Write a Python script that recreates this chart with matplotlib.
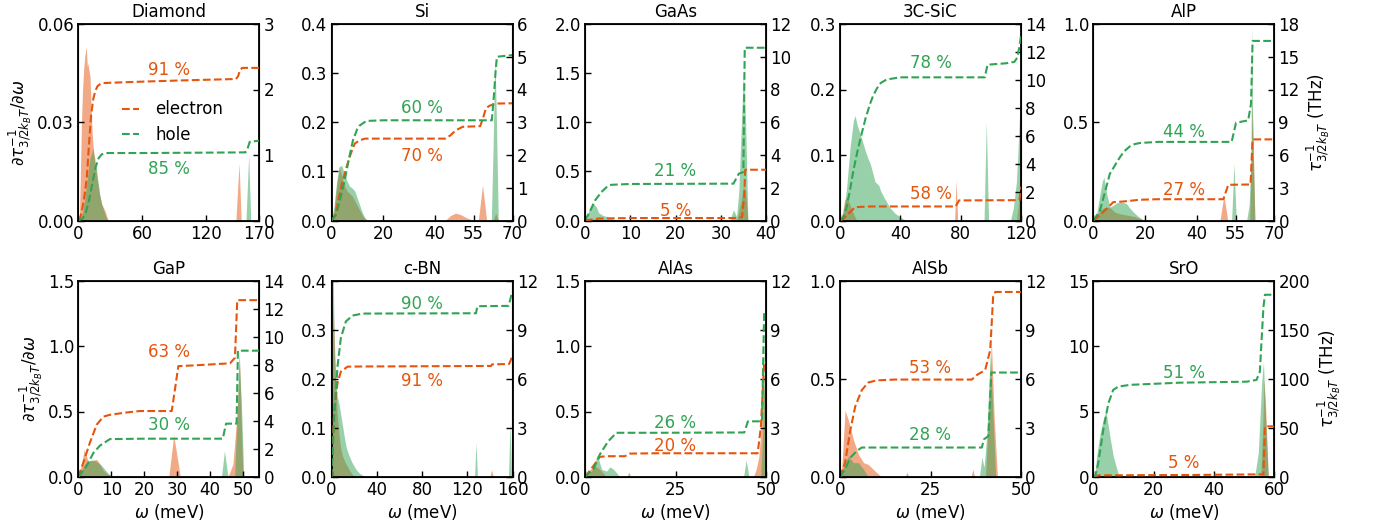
import matplotlib
matplotlib.use("Agg")
import matplotlib.pyplot as plt
from matplotlib.lines import Line2D

# ---------------- data ----------------
materials = ["Diamond", "Si", "GaAs", "3C-SiC", "AlP", "GaP", "c-BN", "AlAs", "AlSb", "SrO"]
pct_e = ["91 %", "70 %", "5 %", "58 %", "27 %", "63 %", "91 %", "20 %", "53 %", "5 %"]
pct_h = ["85 %", "60 %", "21 %", "78 %", "44 %", "30 %", "90 %", "26 %", "28 %", "51 %"]

xlims = [170, 70, 40, 120, 70, 55, 160, 50, 50, 60]
xticks = [[0, 60, 120, 170], [0, 20, 40, 55, 70], [0, 10, 20, 30, 40], [0, 40, 80, 120],
          [0, 20, 40, 55, 70], [0, 10, 20, 30, 40, 50], [0, 40, 80, 120, 160],
          [0, 25, 50], [0, 25, 50], [0, 20, 40, 60]]
left_ticks = [[0, 0.03, 0.06], [0, 0.1, 0.2, 0.3, 0.4], [0, 0.5, 1.0, 1.5, 2.0], [0, 0.1, 0.2, 0.3],
              [0, 0.5, 1.0], [0, 0.5, 1.0, 1.5], [0, 0.1, 0.2, 0.3, 0.4], [0, 0.5, 1.0, 1.5],
              [0, 0.5, 1.0], [0, 5, 10, 15]]
left_fmt = ["{:.2f}", "{:.1f}", "{:.1f}", "{:.1f}", "{:.1f}", "{:.1f}", "{:.1f}", "{:.1f}", "{:.1f}", "{:.0f}"]
right_ticks = [[0, 1, 2, 3], [0, 1, 2, 3, 4, 5, 6], [0, 2, 4, 6, 8, 10, 12], [0, 2, 4, 6, 8, 10, 12, 14],
               [0, 3, 6, 9, 12, 15, 18], [0, 2, 4, 6, 8, 10, 12, 14], [0, 3, 6, 9, 12],
               [0, 3, 6, 9, 12], [0, 3, 6, 9, 12], [0, 50, 100, 150, 200]]

# Diamond
diamond_e_w = [0, 1, 2, 3, 4, 5, 6, 7.5, 8.5, 9, 10, 11, 12, 13, 14, 15, 16, 18, 20, 22, 25, 28, 148, 151, 153, 170]
diamond_e_r = [0, 0, 0.015, 0.03, 0.04, 0.046, 0.05, 0.053, 0.047, 0.048, 0.046, 0.044, 0.035, 0.027, 0.022, 0.02, 0.017, 0.012, 0.008, 0.005, 0.003, 0, 0, 0.0175, 0, 0]
diamond_h_w = [0, 3, 5, 7, 9, 10, 11, 12, 13, 13.8, 14.5, 15, 16, 17, 18, 19, 20, 22, 24, 26, 28, 157.5, 160, 162, 170]
diamond_h_r = [0, 0.001, 0.004, 0.009, 0.014, 0.017, 0.019, 0.02, 0.021, 0.0225, 0.019, 0.02, 0.017, 0.016, 0.013, 0.011, 0.008, 0.005, 0.003, 0.001, 0, 0, 0.02, 0, 0]
diamond_e_cw = [0, 2, 4, 6, 8, 10, 12, 14, 16, 18, 21, 25, 60, 100, 148, 150, 152, 154, 170]
diamond_e_c = [0, 0.05, 0.2, 0.4, 0.65, 1.15, 1.6, 1.85, 1.98, 2.05, 2.09, 2.1, 2.12, 2.14, 2.16, 2.2, 2.3, 2.33, 2.33]
diamond_h_cw = [0, 4, 7, 10, 13, 16, 19, 22, 26, 60, 157, 159, 161, 170]
diamond_h_c = [0, 0.03, 0.12, 0.3, 0.55, 0.8, 0.95, 1.01, 1.03, 1.03, 1.04, 1.1, 1.2, 1.22]

# Si
si_e_w = [0, 1, 2, 3, 4, 5, 6, 7, 8, 9, 10, 11, 12, 13, 14, 44, 46, 48, 50, 52, 55, 56.8, 58.4, 60, 62.5, 63.5, 64.5, 70]
si_e_r = [0, 0.02, 0.07, 0.11, 0.09, 0.07, 0.06, 0.055, 0.05, 0.04, 0.03, 0.02, 0.01, 0.003, 0, 0, 0.01, 0.015, 0.012, 0.006, 0, 0, 0.072, 0, 0, 0.015, 0, 0]
si_h_w = [0, 1, 2, 3, 4, 5, 6, 7, 8, 9, 10, 11, 12, 13, 14, 61.8, 62.5, 63.2, 63.8, 64.5, 70]
si_h_r = [0, 0.03, 0.08, 0.11, 0.112, 0.095, 0.08, 0.07, 0.066, 0.06, 0.045, 0.03, 0.015, 0.005, 0, 0, 0.15, 0.335, 0.2, 0, 0]
si_e_cw = [0, 1.5, 2.6, 4, 5.8, 7.5, 9, 10.9, 13, 20, 44, 46, 48, 50.7, 57.5, 58.5, 59.7, 61, 63.5, 70]
si_e_c = [0, 0.15, 0.6, 1.1, 1.63, 2.05, 2.35, 2.45, 2.5, 2.5, 2.5, 2.6, 2.75, 2.86, 2.88, 3.1, 3.42, 3.5, 3.57, 3.58]
si_h_cw = [0, 1.9, 3.5, 5.1, 6.5, 8.3, 10, 10.9, 13.5, 20, 62, 62.8, 63.5, 64, 70]
si_h_c = [0, 0.2, 0.7, 1.22, 1.8, 2.45, 2.8, 2.9, 3.04, 3.06, 3.06, 3.8, 4.6, 5.0, 5.05]

# GaAs
gaas_e_w = [0, 1, 2, 4, 6, 8, 33.5, 34.5, 35, 35.5, 36, 40]
gaas_e_r = [0, 0.01, 0.015, 0.01, 0.005, 0, 0, 0.2, 0.35, 0.3, 0, 0]
gaas_h_w = [0, 0.3, 1, 1.7, 2.5, 3, 4, 5, 6, 7, 32, 32.8, 33.5, 34, 34.5, 35, 35.5, 36, 40]
gaas_h_r = [0, 0.02, 0.12, 0.177, 0.14, 0.08, 0.05, 0.04, 0.02, 0, 0, 0.11, 0.04, 0.3, 0.9, 1.5, 1.0, 0, 0]
gaas_e_cw = [0, 3, 10, 33, 34.7, 35.2, 35.4, 40]
gaas_e_c = [0, 0.12, 0.15, 0.15, 0.2, 1.5, 3.1, 3.1]
gaas_h_cw = [0, 1, 2.2, 3.6, 5, 5.8, 10, 32.8, 34, 35, 35.3, 40]
gaas_h_c = [0, 0.5, 1.22, 1.73, 2.1, 2.18, 2.23, 2.25, 2.86, 2.96, 10.55, 10.55]

# 3C-SiC
sic_e_w = [0, 1.5, 3, 4.4, 6, 8, 10, 11, 76, 77, 78, 117, 118.5, 120]
sic_e_r = [0, 0.01, 0.03, 0.036, 0.028, 0.015, 0.005, 0, 0, 0.062, 0, 0, 0.03, 0.06]
sic_h_w = [0, 2.2, 4.4, 6.7, 8.9, 10, 11.5, 13.3, 15, 16.7, 18.5, 20, 22, 23.3, 25.6, 27, 29, 33, 36, 40, 44, 95.5, 97, 98.5, 113, 115, 117, 118.5, 120]
sic_h_r = [0, 0.01, 0.05, 0.112, 0.153, 0.16, 0.145, 0.133, 0.12, 0.107, 0.095, 0.087, 0.07, 0.059, 0.054, 0.045, 0.036, 0.02, 0.012, 0.005, 0, 0, 0.15, 0, 0, 0.02, 0.06, 0.13, 0.22]
sic_e_cw = [0, 2, 4.4, 6.7, 10, 20, 76.7, 78.9, 119, 120]
sic_e_c = [0, 0.1, 0.36, 0.6, 0.95, 1.0, 1.0, 1.43, 1.45, 2.4]
sic_h_cw = [0, 2, 4.4, 6.7, 8.9, 11.5, 14.4, 17, 20, 22, 24.4, 27, 31, 40, 96, 97.8, 110, 115.6, 117.5, 119, 120]
sic_h_c = [0, 0.2, 0.95, 2.2, 3.57, 4.9, 6.2, 7.3, 8.33, 8.9, 9.4, 9.8, 10.05, 10.2, 10.2, 11.1, 11.2, 11.3, 11.6, 12.4, 13.2]

# AlP
alp_e_w = [0, 1, 2.5, 4, 5, 6, 7, 8, 10, 12, 14, 16, 18, 19.5, 49, 50.5, 52, 60.5, 61.5, 62.5, 70]
alp_e_r = [0, 0.02, 0.05, 0.065, 0.068, 0.068, 0.06, 0.045, 0.035, 0.03, 0.025, 0.02, 0.01, 0, 0, 0.128, 0, 0, 0.6, 0, 0]
alp_h_w = [0, 1.3, 2.6, 3.5, 4.1, 5.2, 6.4, 7.7, 9, 10.3, 11.5, 12.9, 14, 15.5, 17, 18.7, 20, 53.5, 54.4, 55.3, 59.3, 60.3, 61, 61.2, 61.6, 62.5, 70]
alp_h_r = [0, 0.034, 0.136, 0.2, 0.22, 0.136, 0.068, 0.077, 0.09, 0.094, 0.092, 0.085, 0.065, 0.043, 0.025, 0.008, 0, 0, 0.29, 0, 0, 0.08, 0.35, 1.0, 0.5, 0, 0]
alp_e_cw = [0, 2.5, 5.2, 7.7, 11.6, 18, 25, 50.3, 52.2, 60.8, 61.6, 70]
alp_e_c = [0, 0.5, 1.07, 1.68, 1.74, 1.9, 1.95, 1.95, 3.27, 3.3, 7.43, 7.43]
alp_h_cw = [0, 2.6, 4.5, 6.4, 8.5, 10.3, 12, 14.2, 16, 18, 25, 53.5, 55.2, 59.9, 61, 61.6, 70]
alp_h_c = [0, 0.92, 2.6, 4.28, 5.1, 5.8, 6.35, 6.8, 7.0, 7.1, 7.2, 7.2, 8.96, 9.17, 10.7, 16.45, 16.45]

# GaP
gap_e_w = [0, 1, 1.8, 3, 4, 5.6, 6.5, 7.6, 9, 10, 12, 14, 16, 17, 27.5, 29, 31, 45.5, 47, 48.3, 49, 50, 55]
gap_e_r = [0, 0.1, 0.21, 0.12, 0.125, 0.134, 0.1, 0.05, 0.02, 0.01, 0.013, 0.008, 0.012, 0, 0, 0.32, 0, 0, 0.1, 0.5, 0.9, 0, 0]
gap_h_w = [0, 1, 2, 3, 4, 5, 6, 7, 8, 9, 10, 11, 43.5, 44.4, 45.5, 47.5, 48.3, 48.8, 49.5, 50.3, 55]
gap_h_r = [0, 0.05, 0.1, 0.12, 0.13, 0.125, 0.11, 0.09, 0.06, 0.03, 0.01, 0, 0, 0.2, 0, 0, 0.5, 0.96, 0.6, 0, 0]
gap_e_cw = [0, 1.5, 3.5, 5.6, 7.6, 9.6, 14.7, 18.7, 28.4, 30.4, 35, 46.1, 47.6, 48.3, 55]
gap_e_c = [0, 1.0, 2.43, 3.73, 4.3, 4.43, 4.6, 4.7, 4.7, 7.9, 7.95, 8.1, 8.5, 12.6, 12.6]
gap_h_cw = [0, 2.5, 4.6, 6.6, 9.6, 20, 43.9, 44.9, 48.1, 48.5, 55]
gap_h_c = [0, 0.78, 1.72, 2.24, 2.7, 2.73, 2.73, 3.8, 3.8, 9.0, 9.0]

# c-BN
cbn_e_w = [0, 0.8, 1.5, 2.5, 3.8, 5, 6.8, 8, 9.7, 12, 15.6, 20, 140, 141.6, 143, 160]
cbn_e_r = [0, 0.2, 0.35, 0.28, 0.2, 0.13, 0.083, 0.06, 0.043, 0.03, 0.015, 0, 0, 0.015, 0, 0]
cbn_h_w = [0, 0.5, 0.9, 1.5, 2.5, 3.8, 5, 6.8, 9, 11.2, 13, 15.6, 18, 21.5, 25, 30, 126.5, 127.7, 129, 156.5, 157.8, 159, 160]
cbn_h_r = [0, 0.3, 0.42, 0.42, 0.25, 0.19, 0.165, 0.147, 0.115, 0.083, 0.06, 0.043, 0.03, 0.016, 0.007, 0, 0, 0.07, 0, 0, 0.113, 0, 0]
cbn_e_cw = [0, 0.9, 2.4, 5.3, 8.3, 14.2, 30, 141, 142, 157, 160]
cbn_e_c = [0, 1.68, 4.1, 5.73, 6.44, 6.74, 6.75, 6.78, 6.88, 6.9, 7.39]
cbn_h_cw = [0, 1, 2.4, 5.3, 8.3, 12.7, 18.6, 27.4, 127.7, 129, 156.6, 159.3, 160]
cbn_h_c = [0, 1.5, 3.7, 6.74, 8.5, 9.5, 9.86, 9.98, 10.0, 10.43, 10.45, 11.2, 11.3]

# AlAs
alas_e_w = [0, 1.4, 2.75, 4.1, 5, 6, 11.5, 12.1, 12.7, 46.5, 47.2, 48, 48.6, 49.3, 49.8, 50]
alas_e_r = [0, 0.058, 0.084, 0.058, 0.03, 0, 0, 0.038, 0, 0, 0.05, 0.15, 0.35, 0.77, 0.5, 0.4]
alas_h_w = [0, 1.2, 2.3, 3.4, 4.6, 6, 6.9, 7.8, 8.7, 9.6, 43.8, 44.5, 45.3, 48.5, 49.2, 49.7, 50]
alas_h_r = [0, 0.02, 0.07, 0.167, 0.058, 0.045, 0.078, 0.06, 0.033, 0, 0, 0.13, 0, 0, 0.4, 1.3, 0.9]
alas_e_cw = [0, 2.3, 4.1, 6, 11, 12.4, 20, 47.7, 48.6, 49.5, 50]
alas_e_c = [0, 0.67, 1.23, 1.27, 1.27, 1.43, 1.45, 1.45, 3.1, 7.0, 7.0]
alas_h_cw = [0, 2.3, 4.1, 6.4, 8.7, 20, 44, 45, 48.9, 49.5, 50]
alas_h_c = [0, 0.46, 1.38, 2.18, 2.7, 2.7, 2.72, 3.4, 3.4, 10.1, 10.1]

# AlSb
alsb_e_w = [0, 0.5, 1.4, 2.3, 3.7, 5.1, 6.5, 7.8, 9.7, 11, 12, 18, 18.5, 19, 36.2, 36.7, 37.2, 40.2, 41, 41.8, 42.6, 43.5, 50]
alsb_e_r = [0, 0.05, 0.34, 0.29, 0.19, 0.115, 0.073, 0.064, 0.03, 0.008, 0, 0, 0.025, 0, 0, 0.039, 0, 0, 0.3, 0.7, 0.3, 0, 0]
alsb_h_w = [0, 0.9, 2.3, 3.7, 5.1, 6.5, 7.8, 38.5, 39.2, 39.8, 40.5, 41.5, 42.3, 43, 50]
alsb_h_r = [0, 0.047, 0.106, 0.073, 0.073, 0.039, 0, 0, 0.1, 0.05, 0.2, 0.63, 0.3, 0, 0]
alsb_e_cw = [0, 1.4, 2.8, 4.2, 6, 7.8, 10.1, 15, 36.4, 37.8, 40.1, 41.5, 42.3, 42.9, 50]
alsb_e_c = [0, 0.87, 2.8, 4.3, 5.3, 5.77, 5.9, 5.95, 5.95, 6.23, 6.53, 7.75, 11.0, 11.3, 11.3]
alsb_h_cw = [0, 1.4, 2.8, 4.6, 6, 15, 39.2, 39.7, 41, 41.8, 50]
alsb_h_c = [0, 0.47, 1.17, 1.58, 1.8, 1.8, 1.8, 2.29, 2.5, 6.38, 6.38]

# SrO
sro_e_w = [0, 55.5, 56.2, 56.6, 57.2, 58, 60]
sro_e_r = [0, 0, 4, 7.5, 5, 0, 0]
sro_h_w = [0, 0.5, 1.1, 2.2, 3.3, 4.2, 5.5, 6.6, 8.3, 9, 53, 53.6, 54.7, 55.8, 56.4, 57, 58, 60]
sro_h_r = [0, 0, 1.6, 3.24, 4.4, 5.0, 3.1, 1.6, 0.2, 0, 0, 0.2, 1.85, 7.2, 8.8, 5, 0, 0]
sro_e_cw = [0, 1.7, 30, 56.4, 56.9, 60]
sro_e_c = [0, 1.7, 2, 2.7, 51.6, 51.6]
sro_h_cw = [0, 0.55, 1.66, 3.3, 5, 6.6, 8.3, 12.2, 28.7, 50.8, 54.1, 55.2, 56.4, 56.9, 60]
sro_h_c = [0, 0, 14.5, 48, 75, 88.7, 92, 93.8, 96, 97, 98.8, 107, 173, 185.5, 185.5]

panels = [
    (diamond_e_w, diamond_e_r, diamond_h_w, diamond_h_r, diamond_e_cw, diamond_e_c, diamond_h_cw, diamond_h_c),
    (si_e_w, si_e_r, si_h_w, si_h_r, si_e_cw, si_e_c, si_h_cw, si_h_c),
    (gaas_e_w, gaas_e_r, gaas_h_w, gaas_h_r, gaas_e_cw, gaas_e_c, gaas_h_cw, gaas_h_c),
    (sic_e_w, sic_e_r, sic_h_w, sic_h_r, sic_e_cw, sic_e_c, sic_h_cw, sic_h_c),
    (alp_e_w, alp_e_r, alp_h_w, alp_h_r, alp_e_cw, alp_e_c, alp_h_cw, alp_h_c),
    (gap_e_w, gap_e_r, gap_h_w, gap_h_r, gap_e_cw, gap_e_c, gap_h_cw, gap_h_c),
    (cbn_e_w, cbn_e_r, cbn_h_w, cbn_h_r, cbn_e_cw, cbn_e_c, cbn_h_cw, cbn_h_c),
    (alas_e_w, alas_e_r, alas_h_w, alas_h_r, alas_e_cw, alas_e_c, alas_h_cw, alas_h_c),
    (alsb_e_w, alsb_e_r, alsb_h_w, alsb_h_r, alsb_e_cw, alsb_e_c, alsb_h_cw, alsb_h_c),
    (sro_e_w, sro_e_r, sro_h_w, sro_h_r, sro_e_cw, sro_e_c, sro_h_cw, sro_h_c),
]

# ---------------- style / layout ----------------
C_E = "#e6550d"
C_H = "#31a354"
FS = 12
# label positions (axes fraction) for the percentage annotations: (e_y, h_y)
lab_pos = [(0.765, 0.264), (0.327, 0.575), (0.048, 0.25), (0.133, 0.80), (0.156, 0.45),
           (0.637, 0.266), (0.49, 0.882), (0.157, 0.275), (0.553, 0.216), (0.073, 0.528)]

W, H = 1388, 529
fig = plt.figure(figsize=(W / 100, H / 100), dpi=100)
col_left = [78.3, 331.5, 585.0, 840.0, 1093.3]
ax_w = 181.0
row_top = [24.0, 280.5]
ax_h = 196.5

for i, name in enumerate(materials):
    r, c = divmod(i, 5)
    l = col_left[c] / W
    b = 1 - (row_top[r] + ax_h) / H
    ax = fig.add_axes([l, b, ax_w / W, ax_h / H])
    ew, er, hw, hr, ecw, ec, hcw, hc = panels[i]
    ax.fill_between(ew, er, 0, color=C_E, alpha=0.5, lw=0)
    ax.fill_between(hw, hr, 0, color=C_H, alpha=0.5, lw=0)
    ax.set_xlim(0, xlims[i])
    ax.set_xticks(xticks[i])
    lt = left_ticks[i]
    ax.set_ylim(lt[0], lt[-1])
    ax.set_yticks(lt)
    ax.set_yticklabels([left_fmt[i].format(v) for v in lt])
    ax.tick_params(direction="in", length=4, width=1, labelsize=FS, pad=3)
    ax.set_title(name, fontsize=FS, pad=5)
    for s in ax.spines.values():
        s.set_linewidth(1.3)

    ax2 = ax.twinx()
    ax2.plot(ecw, ec, "--", color=C_E, lw=1.5)
    ax2.plot(hcw, hc, "--", color=C_H, lw=1.5)
    rt = right_ticks[i]
    ax2.set_ylim(rt[0], rt[-1])
    ax2.set_yticks(rt)
    ax2.tick_params(direction="in", length=4, width=1, labelsize=FS, pad=3)
    ax2.set_xlim(0, xlims[i])

    ye, yh = lab_pos[i]
    ax2.text(0.5, ye, pct_e[i], color=C_E, fontsize=FS, ha="center", va="center", transform=ax2.transAxes)
    ax2.text(0.5, yh, pct_h[i], color=C_H, fontsize=FS, ha="center", va="center", transform=ax2.transAxes)

    if c == 0:
        ax.set_ylabel(r"$\partial\tau^{-1}_{3/2k_BT}/\partial\omega$", fontsize=FS, labelpad=2)
    if c == 4:
        ax2.set_ylabel(r"$\tau^{-1}_{3/2k_BT}$ (THz)", fontsize=FS, labelpad=4)
    if r == 1:
        ax.set_xlabel(r"$\omega$ (meV)", fontsize=FS, labelpad=2)

    if i == 0:
        handles = [Line2D([], [], color=C_E, ls="--", lw=1.5), Line2D([], [], color=C_H, ls="--", lw=1.5)]
        ax2.legend(handles, ["electron", "hole"], loc="center left", bbox_to_anchor=(0.16, 0.5),
                   frameon=False, fontsize=FS, handlelength=1.0, handletextpad=1.0, labelspacing=0.45)

fig.savefig("out.png", dpi=100)
